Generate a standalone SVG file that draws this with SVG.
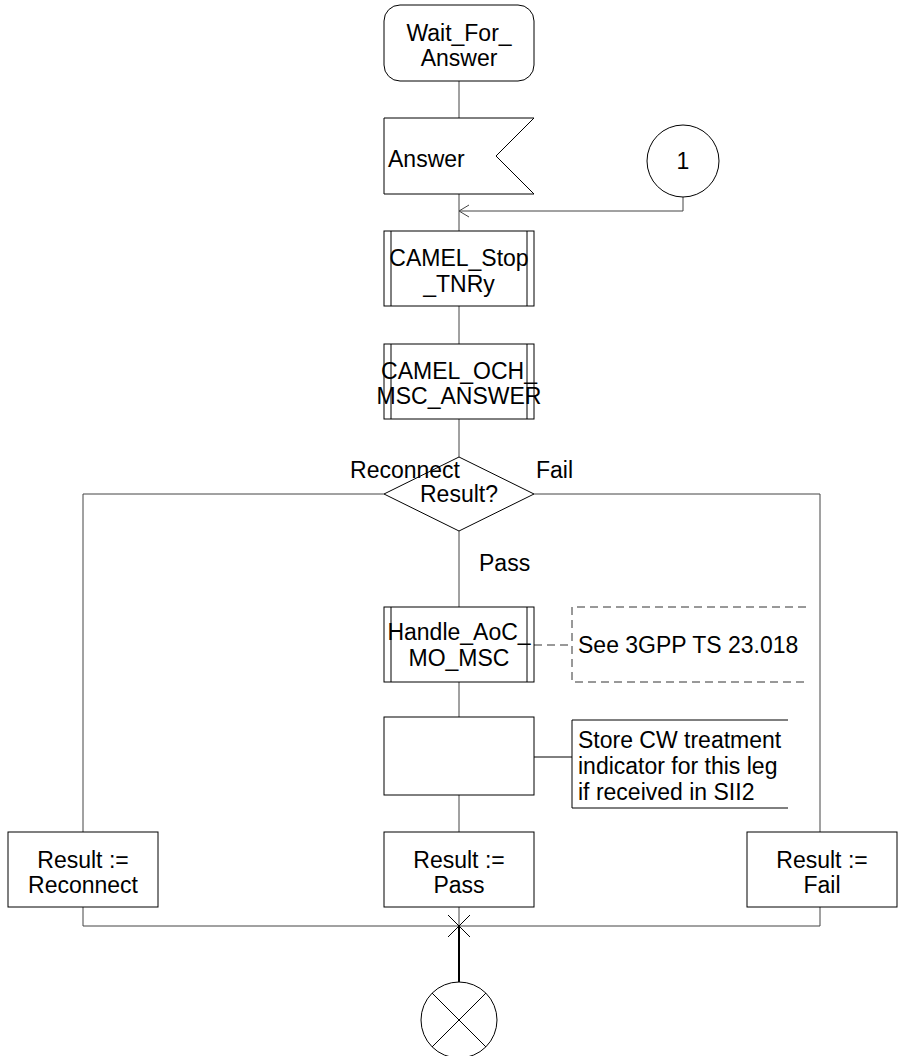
<svg xmlns="http://www.w3.org/2000/svg" width="902" height="1056" viewBox="0 0 902 1056">
<style>
.s{fill:#fff;stroke:#000;stroke-width:1}
.n{fill:none;stroke:#000;stroke-width:1}
.c{fill:none;stroke:#444;stroke-width:1}
.d{fill:none;stroke:#333;stroke-width:1;stroke-dasharray:8,5}
text{font-family:"Liberation Sans",Arial,sans-serif;font-size:23px;fill:#000}
.m{text-anchor:middle}
.e{text-anchor:end}
</style>
<rect width="902" height="1056" fill="#fff"/>
<g id="connectors">
<line class="c" x1="459" y1="81" x2="459" y2="118"/>
<line class="c" x1="459" y1="194" x2="459" y2="231"/>
<polyline class="c" points="683,196 683,211 459,211"/>
<polyline class="c" points="469,205 459,211 469,217"/>
<line class="c" x1="459" y1="306" x2="459" y2="344"/>
<line class="c" x1="459" y1="419" x2="459" y2="457"/>
<polyline class="c" points="384,494 83,494 83,832"/>
<polyline class="c" points="534,494 820,494 820,832"/>
<line class="c" x1="459" y1="531" x2="459" y2="607"/>
<line class="c" x1="459" y1="682" x2="459" y2="717"/>
<line class="d" x1="534" y1="645" x2="572" y2="645"/>
<line class="n" x1="534" y1="757" x2="572" y2="757"/>
<line class="c" x1="459" y1="795" x2="459" y2="832"/>
<polyline class="c" points="83,907 83,926 820,926 820,907"/>
<line class="c" x1="459" y1="907" x2="459" y2="926"/>
<line class="n" x1="448" y1="915" x2="470" y2="937"/>
<line class="n" x1="470" y1="915" x2="448" y2="937"/>
<line stroke="#000" stroke-width="2" x1="459" y1="926" x2="459" y2="982"/>
</g>
<g id="start">
<rect class="s" x="384" y="5" width="150" height="76" rx="16" ry="16"/>
<text class="m" x="459" y="41">Wait_For_</text>
<text class="m" x="459" y="66">Answer</text>
</g>
<g id="answer">
<polygon class="s" points="384,118 534,118 496,156 534,194 384,194"/>
<text x="388" y="167">Answer</text>
</g>
<g id="conn1">
<circle class="s" cx="683" cy="161" r="36"/>
<text class="m" x="683" y="169">1</text>
</g>
<g id="stop">
<rect class="s" x="384" y="231" width="150" height="75"/>
<line class="n" x1="391" y1="231" x2="391" y2="306"/>
<line class="n" x1="527" y1="231" x2="527" y2="306"/>
<text class="m" x="459" y="266">CAMEL_Stop</text>
<text class="m" x="459" y="292">_TNRy</text>
</g>
<g id="och">
<rect class="s" x="384" y="344" width="150" height="75"/>
<line class="n" x1="391" y1="344" x2="391" y2="419"/>
<line class="n" x1="527" y1="344" x2="527" y2="419"/>
<text class="m" x="459" y="379">CAMEL_OCH_</text>
<text class="m" x="459" y="404">MSC_ANSWER</text>
</g>
<g id="decision">
<polygon class="s" points="459,457 534,494 459,531 384,494"/>
<text class="m" x="459" y="502">Result?</text>
<text class="e" x="460" y="478">Reconnect</text>
<text x="536" y="478">Fail</text>
<text x="479" y="571">Pass</text>
</g>
<g id="handle">
<rect class="s" x="384" y="607" width="150" height="75"/>
<line class="n" x1="391" y1="607" x2="391" y2="682"/>
<line class="n" x1="527" y1="607" x2="527" y2="682"/>
<text class="m" x="459" y="640">Handle_AoC_</text>
<text class="m" x="459" y="666">MO_MSC</text>
</g>
<g id="note1">
<polyline class="d" points="806,607 572,607 572,682 806,682"/>
<text x="578" y="653">See 3GPP TS 23.018</text>
</g>
<g id="task">
<rect class="s" x="384" y="717" width="150" height="78"/>
</g>
<g id="note2">
<polyline class="n" points="788,720 572,720 572,808 788,808"/>
<text x="578" y="748">Store CW treatment</text>
<text x="578" y="774">indicator for this leg</text>
<text x="578" y="800">if received in SII2</text>
</g>
<g id="resReconnect">
<rect class="s" x="8" y="832" width="150" height="75"/>
<text class="m" x="83" y="868">Result :=</text>
<text class="m" x="83" y="893">Reconnect</text>
</g>
<g id="resPass">
<rect class="s" x="384" y="832" width="150" height="75"/>
<text class="m" x="459" y="868">Result :=</text>
<text class="m" x="459" y="893">Pass</text>
</g>
<g id="resFail">
<rect class="s" x="747" y="832" width="150" height="75"/>
<text class="m" x="822" y="868">Result :=</text>
<text class="m" x="822" y="893">Fail</text>
</g>
<g id="stopEnd">
<circle class="s" cx="459" cy="1020" r="38"/>
<line class="n" x1="432" y1="993" x2="486" y2="1047"/>
<line class="n" x1="486" y1="993" x2="432" y2="1047"/>
</g>
</svg>
